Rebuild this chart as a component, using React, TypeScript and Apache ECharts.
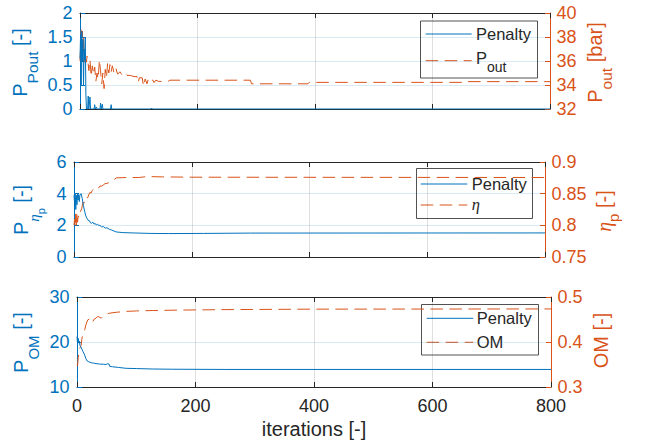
import React, { useEffect, useRef } from 'react';
import * as echarts from 'echarts';

// ---- data: [iteration, value] ----
const penaltyPout: [number, number][] = [
  [0, 1.05], [1, 1.55], [2, 0.5], [3, 1.62], [4, 1.0], [5, 1.45], [6, 0.5], [7, 1.25], [8, 1.02],
  [9, 1.5], [10, 0.3], [11, 0], [13, 0], [14, 0.27], [15, 0], [17, 0.25], [18, 0], [24, 0],
  [25, 0.09], [26, 0], [28, 0.04], [29, 0], [34, 0], [35, 0.12], [36, 0], [38, 0.1], [39, 0],
  [52, 0], [53, 0.09], [54, 0], [121, 0], [122, 0.02], [123, 0], [800, 0],
];
const pressureOut: [number, number][] = [
  [0, 36.0], [1, 37.0], [2, 38.6], [3, 37.2], [4, 38.5], [5, 36.4], [6, 38.1], [7, 35.9], [8, 36.8],
  [9, 36.2], [11, 35.9], [12, 36.4], [13, 36.2], [15, 35.2], [17, 36.1], [19, 34.7], [21, 35.6],
  [23, 34.9], [25, 35.5], [27, 34.3], [29, 35.0], [31, 34.5], [33, 36.1], [35, 35.2], [37, 34.1],
  [39, 35.0], [41, 33.7], [43, 35.3], [45, 34.6], [47, 35.8], [49, 35.0], [51, 35.7], [53, 35.1],
  [55, 35.6], [58, 35.0], [61, 35.4], [64, 34.9], [68, 35.1], [72, 34.8], [76, 35.0], [80, 34.8],
  [86, 34.8], [92, 34.7], [97, 34.7], [99, 34.2], [101, 34.6], [106, 34.6], [108, 33.9], [111, 34.5],
  [114, 34.1], [117, 34.6], [120, 34.4], [124, 34.4], [126, 34.2], [129, 34.4], [134, 34.3],
  [150, 34.3], [153, 34.4], [290, 34.4], [292, 34.1], [388, 34.1], [390, 34.22], [652, 34.22],
  [654, 34.28], [800, 34.28],
];
const penaltyEta: [number, number][] = [
  [0, 3.9], [1, 3.4], [2, 4.0], [3, 3.0], [4, 3.9], [5, 3.3], [6, 4.0], [7, 3.6], [8, 3.95], [9, 3.5],
  [10, 3.9], [12, 4.0], [14, 3.7], [16, 3.25], [18, 2.9], [20, 2.6], [22, 2.45], [24, 2.32], [26, 2.3],
  [28, 2.15], [30, 2.13], [32, 2.2], [34, 2.08], [36, 2.12], [38, 2.02], [40, 2.08], [42, 1.98],
  [44, 2.0], [47, 1.9], [50, 1.92], [53, 1.82], [56, 1.85], [60, 1.75], [64, 1.7], [68, 1.64],
  [72, 1.58], [78, 1.56], [83, 1.54], [100, 1.52], [129, 1.49], [160, 1.48], [220, 1.49],
  [300, 1.51], [800, 1.52],
];
const efficiency: [number, number][] = [
  [0, 0.8], [1, 0.81], [2, 0.797], [3, 0.818], [4, 0.8], [5, 0.82], [6, 0.805], [7, 0.815],
  [9, 0.812], [11, 0.822], [13, 0.826], [15, 0.836], [17, 0.835], [19, 0.842], [21, 0.845],
  [23, 0.843], [25, 0.848], [27, 0.852], [29, 0.851], [31, 0.855], [33, 0.857], [35, 0.856],
  [38, 0.859], [41, 0.858], [44, 0.862], [47, 0.862], [50, 0.864], [53, 0.866], [56, 0.866],
  [60, 0.868], [64, 0.871], [68, 0.872], [72, 0.875], [90, 0.8755], [110, 0.8755], [125, 0.877],
  [150, 0.8765], [200, 0.876], [800, 0.8755],
];
const penaltyOM: [number, number][] = [
  [0, 21.2], [1, 19.6], [2, 20.8], [3, 19.9], [4, 20.2], [5, 19.2], [7, 18.8], [10, 17.9],
  [13, 17.1], [15, 16.3], [17, 15.8], [20, 15.6], [24, 15.4], [28, 15.3], [32, 15.2], [38, 15.1],
  [45, 15.05], [49, 15.0], [51, 15.15], [54, 15.1], [55, 14.6], [60, 14.5], [70, 14.35],
  [83, 14.15], [100, 14.1], [128, 14.0], [160, 13.95], [250, 13.9], [800, 13.9],
];
const omValues: [number, number][] = [
  [0, 0.35], [1, 0.347], [2, 0.365], [3, 0.372], [4, 0.383], [6, 0.39], [7, 0.393], [8, 0.405],
  [10, 0.418], [12, 0.423], [13, 0.427], [15, 0.438], [18, 0.449], [21, 0.451], [24, 0.454],
  [27, 0.446], [29, 0.451], [32, 0.453], [35, 0.457], [38, 0.455], [41, 0.453], [44, 0.457],
  [47, 0.458], [52, 0.463], [55, 0.464], [66, 0.466], [83, 0.468], [100, 0.469], [128, 0.47],
  [180, 0.471], [250, 0.472], [400, 0.473], [800, 0.4735],
];

// axis ranges: [min, max, interval]
const iterationAxis = [0, 800, 200];
const penaltyPoutAxis = [0, 2, 0.5];
const pressureOutAxis = [32, 40, 2];
const penaltyEtaAxis = [0, 6, 2];
const efficiencyAxis = [0.75, 0.9, 0.05];
const penaltyOMAxis = [10, 30, 10];
const omAxis = [0.3, 0.5, 0.1];

const FONT = '"Liberation Sans", Arial, Helvetica, sans-serif';
const SERIF = '"Liberation Serif", "Times New Roman", serif';
const BLUE = '#0072BD';
const ORANGE = '#D95319';
const DARK = '#262626';
const GRID_BLUE = 'rgba(0,114,189,0.15)';
const GRID_GRAY = 'rgba(38,38,38,0.15)';
const DASH = [12.5, 6.5];

type Part = { text: string; size: number; shift?: number; italic?: boolean; serif?: boolean };

const ctx = typeof document !== 'undefined' ? document.createElement('canvas').getContext('2d') : null;
function partWidth(p: Part) {
  if (!ctx) return p.text.length * p.size * 0.55;
  ctx.font = `${p.italic ? 'italic ' : ''}${p.size}px ${p.serif ? SERIF : FONT}`;
  return ctx.measureText(p.text).width;
}
function textEl(p: Part, x: number, y: number, color: string) {
  return {
    type: 'text',
    x,
    y,
    silent: true,
    style: {
      text: p.text,
      fontSize: p.size,
      fontFamily: p.serif ? SERIF : FONT,
      fontStyle: p.italic ? 'italic' : 'normal',
      fill: color,
      align: 'left',
      verticalAlign: 'middle',
    },
  };
}
// vertical axis title, reading bottom to top, centred on cy
function axisTitle(parts: Part[], cx: number, cy: number, color: string) {
  const widths = parts.map(partWidth);
  const total = widths.reduce((a, b) => a + b, 0);
  let pos = 0;
  const children = parts.map((p, k) => {
    const el = textEl(p, pos, p.shift || 0, color);
    pos += widths[k];
    return el;
  });
  return { type: 'group', x: cx, y: cy + total / 2, rotation: Math.PI / 2, children };
}
type Entry = { y: number; color: string; dashed: boolean; parts: Part[]; textDy?: number };
function legendBox(box: number[], lineX: number[], textX: number, entries: Entry[]) {
  const children: any[] = [
    {
      type: 'rect',
      shape: { x: box[0], y: box[1], width: box[2], height: box[3] },
      style: { fill: '#ffffff', stroke: DARK, lineWidth: 0.8 },
    },
  ];
  entries.forEach((e) => {
    children.push({
      type: 'line',
      shape: { x1: lineX[0], y1: e.y, x2: lineX[1], y2: e.y },
      style: { stroke: e.color, lineWidth: 1, lineDash: e.dashed ? DASH : null },
    });
    let pos = textX;
    e.parts.forEach((p) => {
      children.push(textEl(p, pos, e.y + (e.textDy || 0) + (p.shift || 0), DARK));
      pos += partWidth(p);
    });
  });
  return { type: 'group', z: 100, children };
}

const grids = [
  { left: 80, top: 13, width: 470, height: 96 },
  { left: 74, top: 162, width: 471, height: 95 },
  { left: 77, top: 297, width: 474, height: 90 },
];
const leftRanges = [penaltyPoutAxis, penaltyEtaAxis, penaltyOMAxis];
const rightRanges = [pressureOutAxis, efficiencyAxis, omAxis];
const leftSeries = [penaltyPout, penaltyEta, penaltyOM];
const rightSeries = [pressureOut, efficiency, omValues];

function buildOption() {
  const xAxis: any[] = [];
  const yAxis: any[] = [];
  const series: any[] = [];
  grids.forEach((_, i) => {
    xAxis.push({
      type: 'value',
      gridIndex: i,
      position: 'bottom',
      min: iterationAxis[0],
      max: iterationAxis[1],
      interval: iterationAxis[2],
      axisLine: { show: true, onZero: false, lineStyle: { color: DARK, width: 1 } },
      axisTick: { show: true, inside: true, length: 5, lineStyle: { color: DARK } },
      axisLabel: { show: i === 2, color: DARK, fontSize: 18, fontFamily: FONT, margin: 10 },
      splitLine: { show: true, lineStyle: { color: GRID_GRAY, width: 1 } },
      name: i === 2 ? 'iterations [-]' : '',
      nameLocation: 'middle',
      nameGap: 32,
      nameTextStyle: { color: DARK, fontSize: 20, fontFamily: FONT },
    });
    xAxis.push({
      type: 'value',
      gridIndex: i,
      position: 'top',
      min: iterationAxis[0],
      max: iterationAxis[1],
      interval: iterationAxis[2],
      axisLine: { show: true, onZero: false, lineStyle: { color: DARK, width: 1 } },
      axisTick: { show: true, inside: true, length: 5, lineStyle: { color: DARK } },
      axisLabel: { show: false },
      splitLine: { show: false },
    });
    const l = leftRanges[i];
    const r = rightRanges[i];
    yAxis.push({
      type: 'value',
      gridIndex: i,
      position: 'left',
      min: l[0],
      max: l[1],
      interval: l[2],
      axisLine: { show: true, onZero: false, lineStyle: { color: BLUE, width: 1 } },
      axisTick: { show: true, inside: true, length: 5, lineStyle: { color: BLUE } },
      axisLabel: { color: BLUE, fontSize: 18, fontFamily: FONT, margin: 7.5 },
      splitLine: { show: true, lineStyle: { color: GRID_BLUE, width: 1 } },
    });
    yAxis.push({
      type: 'value',
      gridIndex: i,
      position: 'right',
      min: r[0],
      max: r[1],
      interval: r[2],
      axisLine: { show: true, onZero: false, lineStyle: { color: ORANGE, width: 1 } },
      axisTick: { show: true, inside: true, length: 5, lineStyle: { color: ORANGE } },
      axisLabel: {
        color: ORANGE,
        fontSize: 18,
        fontFamily: FONT,
        margin: 6.5,
        formatter: (v: number) => String(+v.toFixed(2)),
      },
      splitLine: { show: false },
    });
    series.push({
      type: 'line',
      xAxisIndex: 2 * i,
      yAxisIndex: 2 * i + 1,
      data: rightSeries[i],
      symbol: 'none',
      lineStyle: { color: ORANGE, width: 1, type: DASH },
      z: 2,
    });
    series.push({
      type: 'line',
      xAxisIndex: 2 * i,
      yAxisIndex: 2 * i,
      data: leftSeries[i],
      symbol: 'none',
      lineStyle: { color: BLUE, width: 1 },
      z: 3,
    });
  });

  const graphic = [
    axisTitle([{ text: 'P', size: 20 }, { text: 'Pout', size: 15.5, shift: 12 }, { text: ' [-]', size: 20 }], 20, 62.5, BLUE),
    axisTitle(
      [
        { text: 'P', size: 20 },
        { text: 'η', size: 15, shift: 13, italic: true, serif: true },
        { text: 'p', size: 11, shift: 20 },
        { text: ' [-]', size: 20 },
      ],
      21,
      210,
      BLUE
    ),
    axisTitle([{ text: 'P', size: 20 }, { text: 'OM', size: 15, shift: 12 }, { text: ' [-]', size: 20 }], 21, 342.5, BLUE),
    axisTitle([{ text: 'P', size: 20 }, { text: 'out', size: 15.5, shift: 11 }, { text: ' [bar]', size: 20 }], 595, 62.5, ORANGE),
    axisTitle(
      [
        { text: 'η', size: 20, italic: true, serif: true },
        { text: 'p', size: 15, shift: 10 },
        { text: ' [-]', size: 20 },
      ],
      603.5,
      211,
      ORANGE
    ),
    axisTitle([{ text: 'OM [-]', size: 20 }], 600.5, 340.5, ORANGE),
    legendBox([420.5, 21, 117, 57], [425.7, 471.7], 476, [
      { y: 34, color: BLUE, dashed: false, parts: [{ text: 'Penalty', size: 16.5 }] },
      {
        y: 60.7,
        color: ORANGE,
        dashed: true,
        textDy: -3,
        parts: [{ text: 'P', size: 16.5 }, { text: 'out', size: 14, shift: 9 }],
      },
    ]),
    legendBox([416.5, 168.5, 116, 50], [420.7, 467.3], 471.7, [
      { y: 184, color: BLUE, dashed: false, parts: [{ text: 'Penalty', size: 16.5 }] },
      { y: 205, color: ORANGE, dashed: true, textDy: -1, parts: [{ text: 'η', size: 16.5, italic: true, serif: true }] },
    ]),
    legendBox([421.5, 304.5, 117, 50.5], [426.7, 473.3], 476.7, [
      { y: 318.3, color: BLUE, dashed: false, parts: [{ text: 'Penalty', size: 16.5 }] },
      { y: 342.3, color: ORANGE, dashed: true, parts: [{ text: 'OM', size: 16.5 }] },
    ]),
  ];

  return {
    animation: false,
    backgroundColor: '#ffffff',
    grid: grids.map((g) => ({ ...g, containLabel: false })),
    xAxis,
    yAxis,
    series,
    graphic,
  };
}

export default function App() {
  const ref = useRef<HTMLDivElement>(null);
  useEffect(() => {
    if (!ref.current) return;
    const chart = echarts.init(ref.current, undefined, { renderer: 'svg' });
    chart.setOption(buildOption() as any);
    return () => chart.dispose();
  }, []);
  return <div ref={ref} style={{ position: 'fixed', left: 0, top: 0, width: 646, height: 446 }} />;
}
